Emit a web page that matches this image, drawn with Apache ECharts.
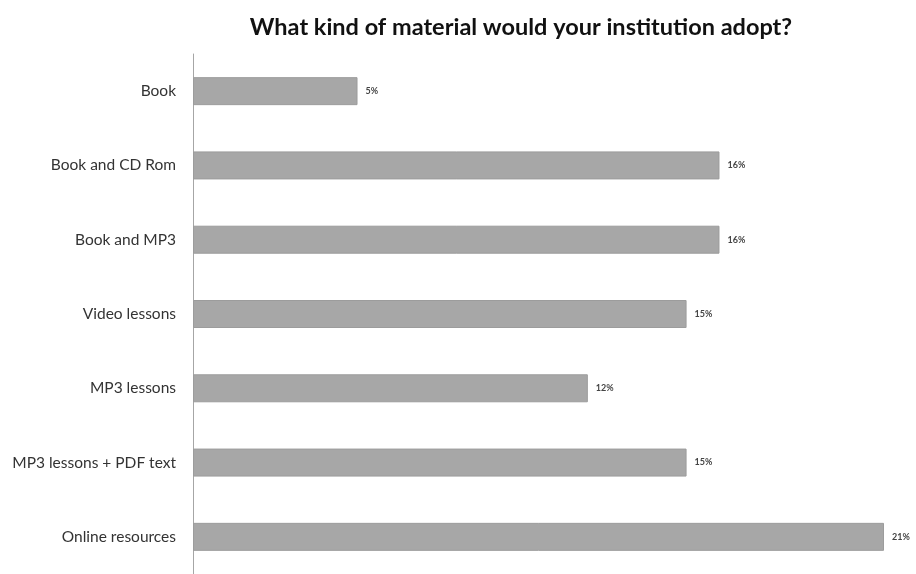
<!DOCTYPE html>
<html>
<head>
<meta charset="utf-8">
<script src="https://cdn.jsdelivr.net/npm/echarts@6/dist/echarts.min.js"></script>
<style>html,body{margin:0;padding:0;background:#fff}#c{width:916px;height:574px}</style>
</head>
<body>
<div id="c"></div>
<script>
const titleText = 'What kind of material would your institution adopt?';
const categories = ['Book', 'Book and CD Rom', 'Book and MP3', 'Video lessons', 'MP3 lessons', 'MP3 lessons + PDF text', 'Online resources'];
const values = [5, 16, 16, 15, 12, 15, 21];
const axisMax = 21;

const chart = echarts.init(document.getElementById('c'), null, {renderer: 'canvas'});
chart.setOption({
  backgroundColor: '#ffffff',
  animation: false,
  title: {
    text: titleText,
    left: 516, top: 10, textAlign: 'center',
    textStyle: {fontFamily: 'Lato', fontWeight: 'bold', fontSize: 23.5, color: '#111'}
  },
  grid: {left: 193, right: 32, top: 54, bottom: -4, containLabel: false},
  xAxis: {
    type: 'value', min: 0, max: axisMax, show: false
  },
  yAxis: {
    type: 'category', data: categories, inverse: true,
    axisLine: {show: true, lineStyle: {color: '#a6a6a6', width: 1}},
    axisTick: {show: false},
    axisLabel: {margin: 17, fontFamily: 'Lato', fontSize: 15.5, color: '#333'}
  },
  series: [{
    type: 'bar', data: values, barWidth: 28,
    itemStyle: {color: '#a7a7a7', borderColor: '#9c9c9c', borderWidth: 1},
    label: {
      show: true, position: 'right', distance: 8,
      formatter: p => p.value + '%',
      fontFamily: 'Lato', fontSize: 9, fontWeight: 'bold', color: '#444'
    }
  }]
});
</script>
</body>
</html>
